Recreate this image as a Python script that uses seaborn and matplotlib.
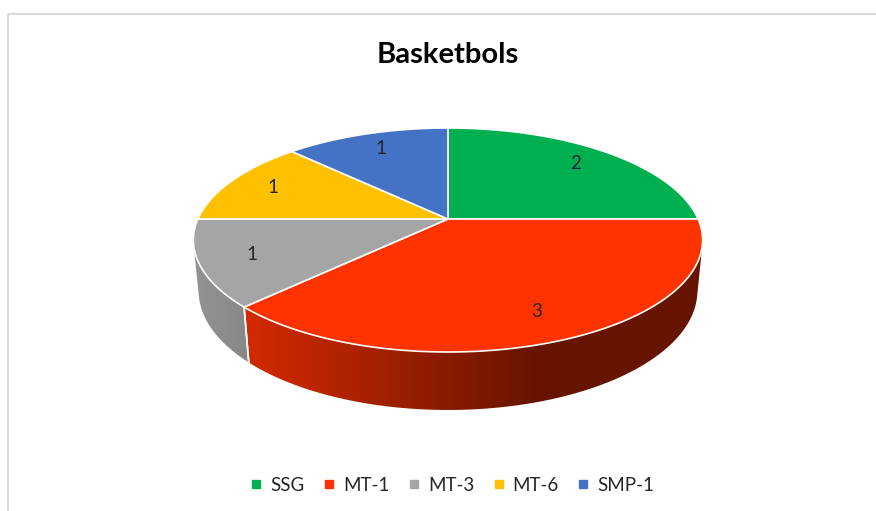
import matplotlib.pyplot as plt
import numpy as np
import seaborn as sns
from matplotlib.lines import Line2D
from matplotlib.patches import Polygon, Rectangle

# chart data
categories = ["SSG", "MT-1", "MT-3", "MT-6", "SMP-1"]
values = [2, 3, 1, 1, 1]
colors = ["#00B050", "#FF3300", "#A5A5A5", "#FFC000", "#4472C4"]
title = "Basketbols"

sns.set_theme(style="white")
plt.rcParams["font.family"] = ["Lato", "DejaVu Sans"]
palette = sns.color_palette(colors)

# perspective camera for a tilted disc of radius 1
elev = np.radians(25.6)
dist = 4.81
focal = 1203.0
cx, cy = 448, 219
thick = 0.226
W, H = 876, 511


def project(theta, z=0.0, r=1.0):
    x = r * np.cos(theta)
    y = r * np.sin(theta)
    v = y * np.sin(elev) + z * np.cos(elev)
    w = y * np.cos(elev) - z * np.sin(elev)
    return cx + focal * x / (dist + w), cy - focal * v / (dist + w)


# horizontal lighting of the side wall (brighter on the left)
px = np.arange(W) + 0.5
light = np.interp(px, [200, 290, 540, 876], [0.88, 0.77, 0.40, 0.40])

fig = plt.figure(figsize=(W / 100, H / 100), dpi=100)
ax = fig.add_axes([0, 0, 1, 1])

ax.add_patch(Rectangle((7.5, 14.5), 900, 600, fill=False,
                       ec="#D9D9D9", lw=1.5))

total = sum(values)
cum = np.concatenate([[0], np.cumsum(values)]) / total
starts = np.pi / 2 - 2 * np.pi * cum[:-1]
ends = np.pi / 2 - 2 * np.pi * cum[1:]

# visible part of the side wall
lim = np.arcsin(-1 / (dist * np.cos(elev)))
vis_lo, vis_hi = -np.pi - lim, lim

# side walls with gradient fill
for a0, a1, col in zip(starts, ends, palette):
    lo, hi = max(min(a0, a1), vis_lo), min(max(a0, a1), vis_hi)
    if lo >= hi:
        continue
    th = np.linspace(lo, hi, 200)
    top = [project(t) for t in th]
    bot = [project(t, -thick) for t in th[::-1]]
    wall = Polygon(top + bot, closed=True, fc="none", ec="none")
    ax.add_patch(wall)
    grad = np.clip(np.array(col)[None, None, :] * light[None, :, None], 0, 1)
    grad = np.repeat(grad, 2, axis=0)
    im = ax.imshow(grad, extent=(0, W, H, 0), aspect="auto",
                   interpolation="bilinear", zorder=1)
    im.set_clip_path(wall)
    for b in (a0, a1):
        if vis_lo < b < vis_hi:
            xs, ys = zip(project(b), project(b, -thick))
            ax.plot(xs, ys, color="white", lw=1.2, zorder=2)

# top faces
for a0, a1, col in zip(starts, ends, palette):
    th = np.linspace(a0, a1, 200)
    pts = [(cx, cy)] + [project(t) for t in th]
    ax.add_patch(Polygon(pts, closed=True, fc=col, ec="white", lw=1.2,
                         joinstyle="round", zorder=3))

# data labels
for a0, a1, val in zip(starts, ends, values):
    lx, ly = project((a0 + a1) / 2, r=0.8)
    ax.text(lx, ly, str(val), ha="center", va="center", fontsize=13.5,
            color="#262626", zorder=4)

ax.text(448, 55, title, ha="center", va="center", fontsize=21,
        fontweight="bold", color="black")

ax.set_xlim(0, W)
ax.set_ylim(H, 0)
ax.axis("off")

handles = [Line2D([], [], marker="s", linestyle="", color=c, markersize=6)
           for c in palette]
fig.legend(handles, categories, loc="center", ncol=5, frameon=False,
           bbox_to_anchor=(452 / W, 1 - 485 / H), fontsize=13.5,
           handletextpad=0.4, columnspacing=0.95, handlelength=0.7)

fig.savefig("out.png", dpi=100, facecolor="white")
